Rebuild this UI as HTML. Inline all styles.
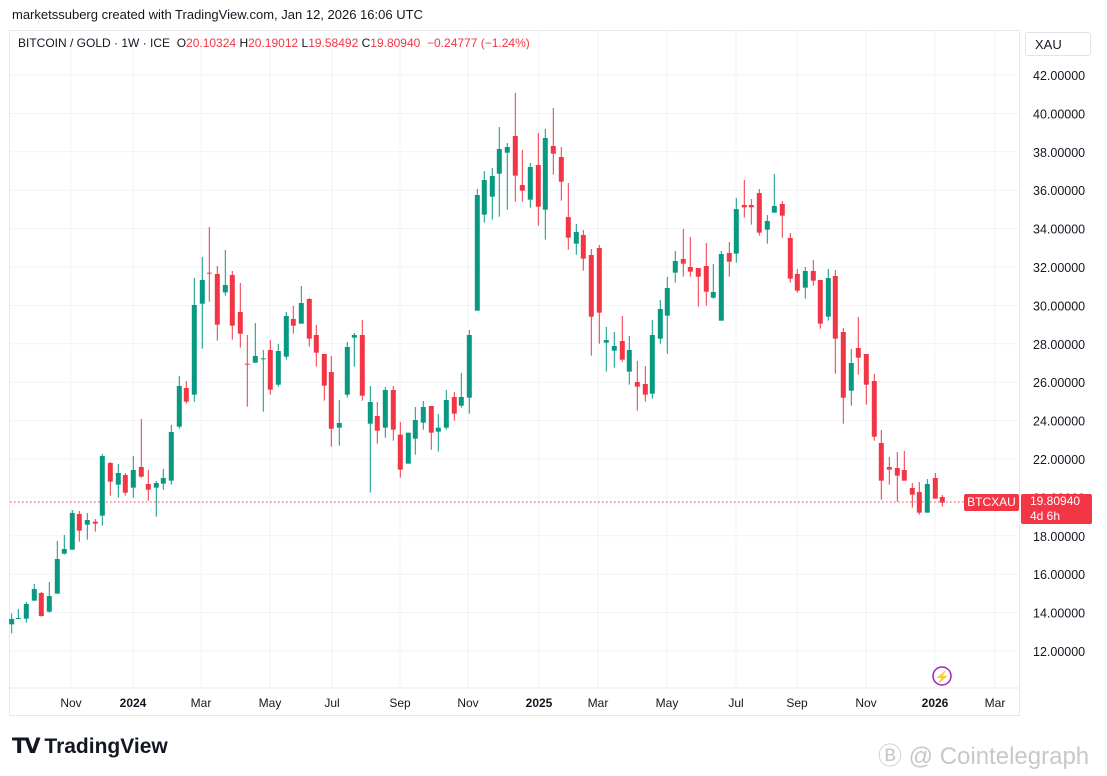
<!DOCTYPE html>
<html><head><meta charset="utf-8"><style>
body{margin:0;width:1107px;height:776px;background:#fff;font-family:"Liberation Sans",sans-serif;overflow:hidden;position:relative}
.t{position:absolute;white-space:nowrap}
</style></head><body>
<svg id="s" width="1107" height="776" style="position:absolute;left:0;top:0" xmlns="http://www.w3.org/2000/svg"></svg>
<div class="t" style="left:12px;top:7px;font-size:13px;color:#131722">marketssuberg created with TradingView.com, Jan 12, 2026 16:06 UTC</div>
<div class="t" style="left:18px;top:36px;font-size:12px;color:#131722">BITCOIN / GOLD · 1W · ICE &nbsp;<span style="color:#131722">O</span><span style="color:#F23645">20.10324</span> <span>H</span><span style="color:#F23645">20.19012</span> <span>L</span><span style="color:#F23645">19.58492</span> <span>C</span><span style="color:#F23645">19.80940 &nbsp;−0.24777 (−1.24%)</span></div>
<div class="t" style="left:1025px;top:32px;width:66px;height:24px;border:1px solid #e0e3eb;border-radius:3px;font-size:13px;line-height:24px;padding-left:9px;box-sizing:border-box;color:#131722">XAU</div>
<div class="t" style="left:964px;top:494px;width:55px;height:17px;background:#F23645;color:#fff;font-size:12px;line-height:17px;text-align:center;border-radius:2px">BTCXAU</div>
<div class="t" style="left:1021px;top:494px;width:71px;height:30px;background:#F23645;color:#fff;font-size:12px;line-height:15px;padding-left:9px;box-sizing:border-box;border-radius:2px">19.80940<br>4d 6h</div>
<div class="t" style="left:12px;top:734px;font-size:21px;font-weight:bold;color:#131722"><span style="letter-spacing:-2px">𝗧𝗩</span> TradingView</div>
<div class="t" style="left:878px;top:736px;font-size:24px;color:#c8c8c8">Ⓑ @ Cointelegraph</div>
<script>
const s=document.getElementById('s');let h='';
for(let i=0;i<16;i++){const y=75+i*38.4;if(y>700)break;h+=`<line x1="10" x2="1020" y1="${y}" y2="${y}" stroke="#f0f3fa"/>`;}
const xl=[[71,'Nov',0],[133,'2024',1],[201,'Mar',0],[270,'May',0],[332,'Jul',0],[400,'Sep',0],[468,'Nov',0],[539,'2025',1],[598,'Mar',0],[667,'May',0],[736,'Jul',0],[797,'Sep',0],[866,'Nov',0],[935,'2026',1],[995,'Mar',0]];
xl.forEach(a=>{h+=`<line x1="${a[0]}" x2="${a[0]}" y1="30" y2="688" stroke="#f0f3fa"/><text x="${a[0]}" y="707" font-size="12" text-anchor="middle" fill="#131722" ${a[2]?'font-weight="bold"':''}>${a[1]}</text>`;});
h+=`<rect x="9.5" y="30.5" width="1010" height="685" fill="none" stroke="#e8e8e8"/>`;
h+=`<line x1="10" x2="1020" y1="688" y2="688" stroke="#e8e8e8"/>`;
for(let i=0;i<16;i++){const y=75+i*38.4;if(y>660)break;h+=`<text x="1033" y="${y+5}" font-size="12.5" fill="#131722">${(42-2*i).toFixed(5)}</text>`;}
h+=`<line x1="10" x2="964" y1="502" y2="502" stroke="#F23645" stroke-dasharray="1.5,2.5"/>`;
const C=[
[11.7,'g',1197,1213,1180,1240,220],[18.3,'g',1194,1196,1167,1197,220],[26.3,'g',1152,1196,1146,1208,220],[34.3,'g',1107,1142,1092,1142,220],[41.3,'r',1119,1188,1116,1190,220],[49.3,'g',1128,1175,1086,1178,220],[57.3,'g',1017,1121,963,1121,220],[64.3,'g',987,1001,945,1004,220],[72.3,'g',879,989,870,989,220],[79.3,'r',882,932,873,965,220],[87.3,'g',900,914,879,959,220],[95.3,'r',905,911,897,935,220],[102.3,'g',708,887,702,917,220],[110.3,'r',729,785,726,827,220],[118.3,'g',759,794,732,833,220],[125.3,'r',765,818,759,827,220],[133.3,'g',750,803,708,833,220],[141.3,'r',741,770,597,773,220],[148.3,'r',792,809,750,842,220],[156.3,'g',789,803,783,890,220],[163.3,'g',774,791,747,809,220],[171.3,'g',636,782,615,794,220],[179.3,'g',498,620,468,626,220],[186.3,'r',504,545,483,551,220],[194.3,'g',255,524,174,545,220],[202.3,'g',180,251,111,386,220],[209.3,'r',158,161,21,245,220],[217.3,'r',162,314,138,362,220],[225.3,'g',195,217,90,227,220],[232.3,'r',165,317,153,359,220],[240.3,'r',276,341,189,383,220],[247.3,'r',431,434,345,560,220],
[255.3,'g',798,818,699,818,90],[263.3,'g',805,808,780,965,90],[270.3,'r',780,899,750,914,90],[278.3,'g',783,884,762,890,90],[286.3,'g',678,800,666,809,90],[293.3,'r',687,707,648,731,90],[301.3,'g',639,701,588,701,90],[309.3,'r',627,746,624,770,90],[316.3,'r',735,788,705,830,90],[324.3,'r',792,887,792,932,90],[331.3,'r',846,1016,798,1070,90],[339.3,'g',999,1013,930,1067,90],[347.3,'g',771,914,756,923,90],[354.3,'g',735,743,729,830,90],[362.3,'r',735,917,690,932,90],[370.3,'g',936,1001,888,1208,90],[377.3,'r',978,1022,936,1061,90],[385.3,'g',900,1013,891,1043,90],[393.3,'r',900,1019,888,1052,90],[400.3,'r',1034,1139,996,1163,90],[408.3,'g',1028,1121,1028,1121,90],[415.3,'g',990,1046,951,1094,90],[423.3,'g',951,998,933,1019,90],[431.3,'r',948,1028,948,1079,90],[438.3,'g',1013,1025,972,1085,90],[446.3,'g',930,1013,900,1019,90],[454.3,'r',921,971,906,992,90],[461.3,'g',921,947,849,953,90],[469.3,'g',735,923,720,971,90],[477.3,'g',315,662,297,662,90],[484.3,'g',270,374,243,398,90],[492.3,'g',258,320,234,389,90],[499.3,'g',177,251,111,380,90],[507.3,'g',171,188,159,359,90],
[515.3,'r',138,257,9,335,90],[522.3,'r',285,302,180,335,90],[530.3,'g',231,329,219,353,90],[538.3,'r',225,350,129,407,90],[545.3,'g',144,359,117,449,90],[553.3,'r',168,191,54,254,90],[561.3,'r',201,275,171,332,90],[568.3,'r',381,443,279,479,90],[576.3,'g',426,461,402,494,90],[583.3,'r',435,506,420,542,90],[591.3,'r',495,680,477,797,90],[599.3,'r',474,668,465,761,90],[606.3,'g',750,758,711,845,90],[614.3,'g',768,782,726,833,90],[622.3,'r',753,809,678,815,90],[629.3,'g',780,845,738,884,90],[637.3,'r',876,890,813,962,90],[645.3,'r',882,914,828,935,90],[652.3,'g',735,911,690,926,90],[660.3,'g',657,746,630,761,90],[667.3,'g',594,677,561,791,90],[675.3,'g',513,548,483,578,90],[683.3,'r',507,521,417,560,90],[690.3,'r',531,545,441,560,90],[698.3,'r',534,560,534,650,90],[706.3,'r',528,605,459,647,90],[713.3,'g',606,623,522,626,90],[721.3,'g',492,692,483,692,90],[729.3,'r',489,515,456,560,90],[736.3,'g',357,491,324,518,90],
[744.3,'r',105,112,30,143,170],[751.3,'r',105,112,87,164,170],[759.3,'r',69,188,57,197,170],[767.3,'g',153,179,135,221,170],[774.3,'g',108,128,12,128,170],[782.3,'r',102,137,93,203,170],[790.3,'r',204,326,189,338,170],[797.3,'r',312,362,297,368,170],[805.3,'g',303,353,291,386,170],[813.3,'r',303,332,270,347,170],[820.3,'r',330,461,330,476,170],[828.3,'g',324,440,297,452,170],[835.3,'r',318,506,300,611,170],[843.3,'r',486,683,474,761,170],[851.3,'g',579,662,537,707,170],[858.3,'r',534,563,441,614,170],[866.3,'r',552,644,552,704,170],[874.3,'r',633,800,612,812,170],[881.3,'r',819,932,780,989,170],[889.3,'r',891,899,861,944,170],[897.3,'r',894,917,846,995,170],[904.3,'r',900,932,843,932,170],[912.3,'r',954,974,939,1013,170],[919.3,'r',966,1028,936,1034,170],[927.3,'g',942,1028,927,1028,170],[935.3,'r',924,986,909,986,170],[942.3,'r',981,998,975,1010,170]];
C.forEach(c=>{const col=c[1]=='g'?'#089981':'#F23645',o=c[6];const x=c[0];
const bt=o+c[2]/3,bb=o+c[3]/3,wt=o+c[4]/3,wb=o+c[5]/3;
h+=`<line x1="${x}" x2="${x}" y1="${wt}" y2="${wb}" stroke="${col}" stroke-width="1"/><rect x="${x-2.5}" y="${bt}" width="5" height="${Math.max(1,bb-bt)}" fill="${col}"/>`;});
h+=`<circle cx="942" cy="676" r="9" fill="none" stroke="#9c27b0" stroke-width="1.5"/><text x="942" y="681" font-size="12" text-anchor="middle" fill="#9c27b0">⚡</text>`;
s.innerHTML=h;
</script>
</body></html>
